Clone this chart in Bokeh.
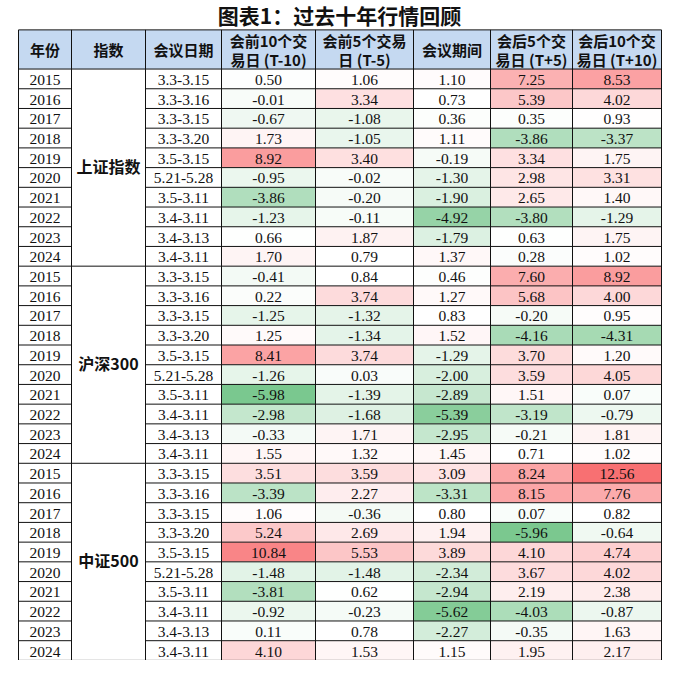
import numpy as np
from bokeh.plotting import figure
from bokeh.models import Range1d, ColumnDataSource
from bokeh.core.properties import value
from bokeh.embed import file_html
from bokeh.resources import INLINE

# ---------------- data ----------------
title = "图表1：过去十年行情回顾"
header_line1 = ["年份", "指数", "会议日期", "会前10个交", "会前5个交易", "会议期间", "会后5个交", "会后10个交"]
header_line2 = ["", "", "", "易日 (T-10)", "日 (T-5)", "", "易日 (T+5)", "易日 (T+10)"]
indices = ["上证指数", "沪深300", "中证500"]
years = ["2015", "2016", "2017", "2018", "2019", "2020", "2021", "2022", "2023", "2024"]
dates = ["3.3-3.15", "3.3-3.16", "3.3-3.15", "3.3-3.20", "3.5-3.15",
         "5.21-5.28", "3.5-3.11", "3.4-3.11", "3.4-3.13", "3.4-3.11"]

sh_t10 = [0.50, -0.01, -0.67, 1.73, 8.92, -0.95, -3.86, -1.23, 0.66, 1.70]
sh_t5 = [1.06, 3.34, -1.08, -1.05, 3.40, -0.02, -0.20, -0.11, 1.87, 0.79]
sh_mid = [1.10, 0.73, 0.36, 1.11, -0.19, -1.30, -1.90, -4.92, -1.79, 1.37]
sh_p5 = [7.25, 5.39, 0.35, -3.86, 3.34, 2.98, 2.65, -3.80, 0.63, 0.28]
sh_p10 = [8.53, 4.02, 0.93, -3.37, 1.75, 3.31, 1.40, -1.29, 1.75, 1.02]

hs_t10 = [-0.41, 0.22, -1.25, 1.25, 8.41, -1.26, -5.98, -2.98, -0.33, 1.55]
hs_t5 = [0.84, 3.74, -1.32, -1.34, 3.74, 0.03, -1.39, -1.68, 1.71, 1.32]
hs_mid = [0.46, 1.27, 0.83, 1.52, -1.29, -2.00, -2.89, -5.39, -2.95, 1.45]
hs_p5 = [7.60, 5.68, -0.20, -4.16, 3.70, 3.59, 1.51, -3.19, -0.21, 0.71]
hs_p10 = [8.92, 4.00, 0.95, -4.31, 1.20, 4.05, 0.07, -0.79, 1.81, 1.02]

zz_t10 = [3.51, -3.39, 1.06, 5.24, 10.84, -1.48, -3.81, -0.92, 0.11, 4.10]
zz_t5 = [3.59, 2.27, -0.36, 2.69, 5.53, -1.48, 0.62, -0.23, 0.78, 1.53]
zz_mid = [3.09, -3.31, 0.80, 1.94, 3.89, -2.34, -2.94, -5.62, -2.27, 1.15]
zz_p5 = [8.24, 8.15, 0.07, -5.96, 4.10, 3.67, 2.19, -4.03, -0.35, 1.95]
zz_p10 = [12.56, 7.76, 0.82, -0.64, 4.74, 4.02, 2.38, -0.87, 1.63, 2.17]

groups = [
    [sh_t10, sh_t5, sh_mid, sh_p5, sh_p10],
    [hs_t10, hs_t5, hs_mid, hs_p5, hs_p10],
    [zz_t10, zz_t5, zz_mid, zz_p5, zz_p10],
]

# ---------------- layout ----------------
col_edges = [26, 79, 153, 229, 323, 421, 498, 580, 669]
head_top, head_bot = 32, 72
row_h = 20.13
n_rows = len(indices) * len(years)

# color scale (3 color scale: green - white - red)
all_vals = np.array([v for g in groups for col in g for v in col])
vmin, vmax, vmid = all_vals.min(), all_vals.max(), np.percentile(all_vals, 50)
green = np.array([99, 190, 123])
red = np.array([248, 105, 107])
white = np.array([255, 255, 255])


def cell_color(v):
    if v <= vmid:
        t = (vmid - v) / (vmid - vmin)
        t = 0.85 * t ** 1.4
        c = white + t * (green - white)
    else:
        t = (v - vmid) / (vmax - vmid)
        t = 0.95 * t
        c = white + t * (red - white)
    c = np.clip(np.round(c), 0, 255).astype(int)
    return "#%02x%02x%02x" % tuple(c)


p = figure(width=674, height=660, output_backend="svg", toolbar_location=None,
           x_range=Range1d(8, 682), y_range=Range1d(676, 2),
           x_axis_type=None, y_axis_type=None, min_border=0,
           outline_line_color=None, background_fill_color="white",
           border_fill_color="white")
p.xgrid.visible = False
p.ygrid.visible = False

# header fill
p.quad(left=[col_edges[0]], right=[col_edges[-1]], top=[head_top], bottom=[head_bot],
       fill_color="#c5d9f1", line_color=None)

# value cells
L, R, T, B, C, X, Y, TXT = [], [], [], [], [], [], [], []
for gi, g in enumerate(groups):
    for ci, col in enumerate(g):
        for ri, v in enumerate(col):
            r = gi * len(years) + ri
            top = head_bot + r * row_h
            L.append(col_edges[3 + ci]); R.append(col_edges[4 + ci])
            T.append(top); B.append(top + row_h)
            C.append(cell_color(v))
            X.append((col_edges[3 + ci] + col_edges[4 + ci]) / 2)
            Y.append(top + row_h / 2 + 1)
            TXT.append("%.2f" % v)
src = ColumnDataSource(dict(left=L, right=R, top=T, bottom=B, color=C, x=X, y=Y, text=TXT))
p.quad(left="left", right="right", top="top", bottom="bottom", fill_color="color",
       line_color=None, source=src)
p.text(x="x", y="y", text="text", source=src, text_align="center", text_baseline="middle",
       text_font=value("Liberation Serif"), text_font_size="15.5px", text_color="#111111")

# year and date columns
yy, yt, dt = [], [], []
for gi in range(len(indices)):
    for ri in range(len(years)):
        r = gi * len(years) + ri
        yy.append(head_bot + r * row_h + row_h / 2 + 1)
        yt.append(years[ri])
        dt.append(dates[ri])
p.text(x=[(col_edges[0] + col_edges[1]) / 2] * len(yy), y=yy, text=yt,
       text_align="center", text_baseline="middle",
       text_font=value("Liberation Serif"), text_font_size="15.5px", text_color="#111111")
p.text(x=[(col_edges[2] + col_edges[3]) / 2] * len(yy), y=yy, text=dt,
       text_align="center", text_baseline="middle",
       text_font=value("Liberation Serif"), text_font_size="15.5px", text_color="#111111")

# index labels (merged cells)
ix = [(col_edges[1] + col_edges[2]) / 2] * len(indices)
iy = [head_bot + (gi * len(years) + len(years) / 2) * row_h - 2 for gi in range(len(indices))]
p.text(x=ix, y=iy, text=indices, text_align="center", text_baseline="middle",
       text_font=value("Noto Sans CJK SC"), text_font_style="bold",
       text_font_size="16px", text_color="#111111")

# header text
hx1, hy1, ht1, hx2, hy2, ht2 = [], [], [], [], [], []
for ci in range(len(header_line1)):
    cx = (col_edges[ci] + col_edges[ci + 1]) / 2
    if header_line2[ci]:
        hx1.append(cx); hy1.append(43); ht1.append(header_line1[ci])
        hx2.append(cx); hy2.append(62); ht2.append(header_line2[ci])
    else:
        hx1.append(cx); hy1.append(52); ht1.append(header_line1[ci])
p.text(x=hx1 + hx2, y=hy1 + hy2, text=ht1 + ht2, text_align="center", text_baseline="middle",
       text_font=value("Noto Sans CJK SC"), text_font_style="bold",
       text_font_size="15px", text_color="#111111")

# title
p.text(x=[347], y=[17], text=[title], text_align="center", text_baseline="middle",
       text_font=value("Noto Sans CJK SC"), text_font_style="bold",
       text_font_size="21px", text_color="#111111")

# grid lines
x0s, y0s, x1s, y1s = [], [], [], []
for yv in (head_top, head_bot):
    x0s.append(col_edges[0]); x1s.append(col_edges[-1]); y0s.append(yv); y1s.append(yv)
for r in range(1, n_rows + 1):
    yv = head_bot + r * row_h
    if r % len(years) == 0:
        x0s.append(col_edges[0]); x1s.append(col_edges[-1])
        y0s.append(yv); y1s.append(yv)
    else:
        x0s += [col_edges[0], col_edges[2]]; x1s += [col_edges[1], col_edges[-1]]
        y0s += [yv, yv]; y1s += [yv, yv]
bottom = head_bot + n_rows * row_h
for xe in col_edges:
    x0s.append(xe); x1s.append(xe); y0s.append(head_top); y1s.append(bottom)
p.segment(x0=x0s, y0=y0s, x1=x1s, y1=y1s, line_color="#111111", line_width=1)

open("out.html", "w").write(file_html(p, INLINE))
